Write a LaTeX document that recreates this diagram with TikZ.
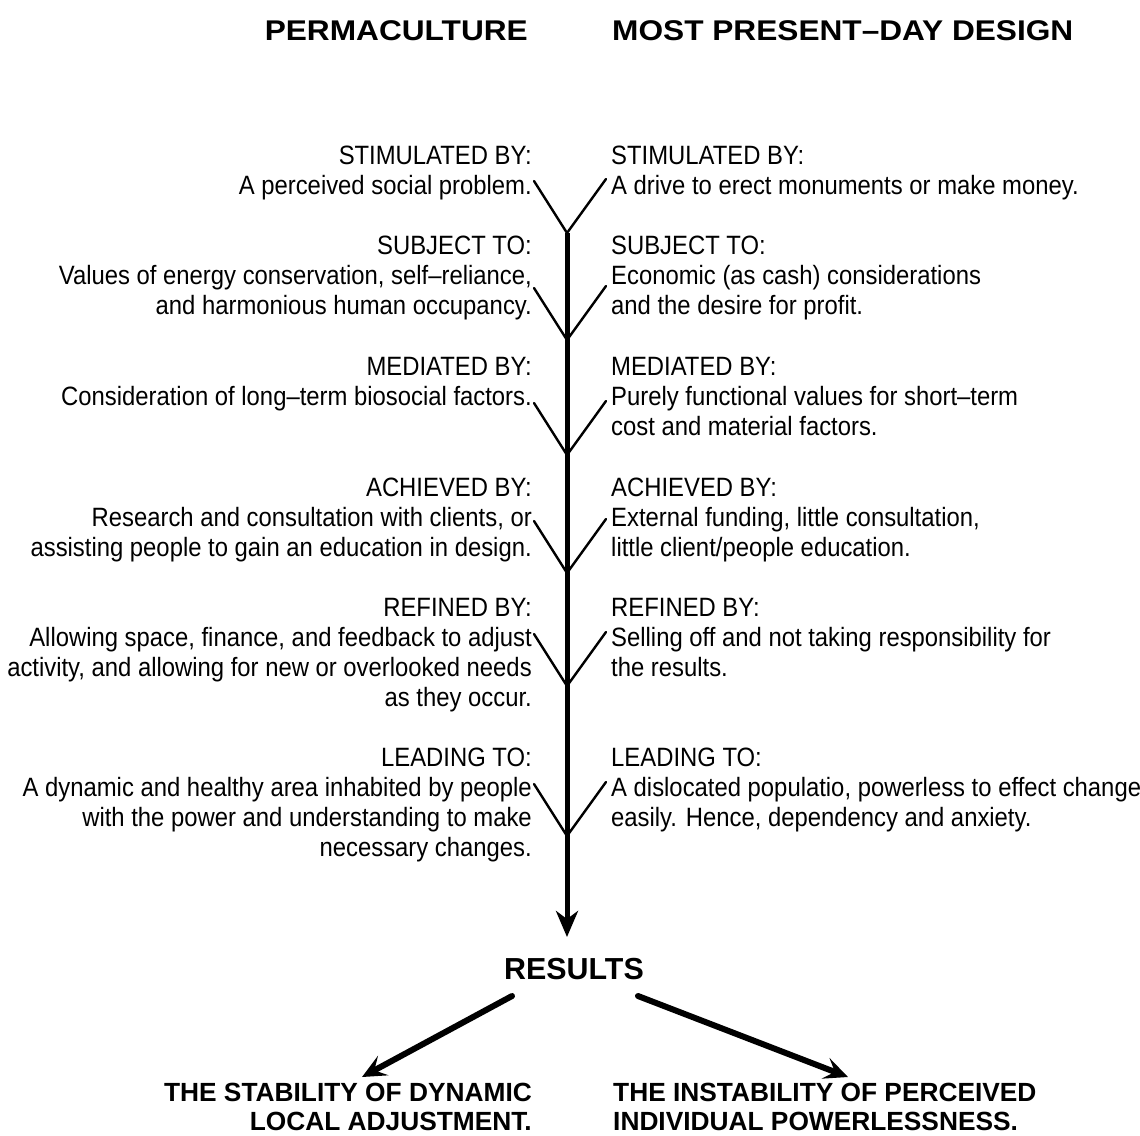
\documentclass[tikz,border=0pt]{standalone}
\usepackage{fontspec}
\setmainfont{Liberation Sans}[FakeStretch=0.9]
\newfontfamily\hfont{Liberation Sans}[FakeStretch=1.11]
\newfontfamily\bfont{Liberation Sans}
\usetikzlibrary{arrows.meta}
\begin{document}
\begin{tikzpicture}[x=1pt,y=-1pt,
  lbl/.style={inner sep=0pt,font=\fontsize{26.5}{30}\selectfont},
  lblL/.style={lbl,align=right,anchor=base east},
  lblR/.style={lbl,align=left,anchor=base west},
  head/.style={inner sep=0pt,font=\hfont\bfseries\fontsize{28.5}{34}\selectfont},
  reshead/.style={inner sep=0pt,font=\bfont\bfseries\fontsize{30.4}{36}\selectfont},
  res/.style={inner sep=0pt,font=\bfont\bfseries\fontsize{26.3}{29}\selectfont},
  arm/.style={line width=2.4pt,line cap=round},
  stem/.style={line width=5pt},
  bigarrow/.style={line width=6pt,-{Stealth[length=24pt,width=22pt,inset=10pt]}}]
\useasboundingbox[fill=white] (0,0) rectangle (1140,1135);

% headers
\node[head,anchor=base east] (hl) at (528,40) {PERMACULTURE};
\node[head,anchor=base west] (hr) at (612,40) {MOST PRESENT–DAY DESIGN};

% left column (anchored at baseline of last line)
\node[lblL] (l1) at (532,194) {STIMULATED BY:\\A perceived social problem.};
\node[lblL] (l2) at (532,314) {SUBJECT TO:\\Values of energy conservation, self–reliance,\\and harmonious human occupancy.};
\node[lblL] (l3) at (532,405) {MEDIATED BY:\\Consideration of long–term biosocial factors.};
\node[lblL] (l4) at (532,556) {ACHIEVED BY:\\Research and consultation with clients, or\\assisting people to gain an education in design.};
\node[lblL] (l5) at (532,706) {REFINED BY:\\Allowing space, finance, and feedback to adjust\\activity, and allowing for new or overlooked needs\\as they occur.};
\node[lblL] (l6) at (532,856) {LEADING TO:\\A dynamic and healthy area inhabited by people\\with the power and understanding to make\\necessary changes.};

% right column
\node[lblR] (r1) at (611,194) {STIMULATED BY:\\A drive to erect monuments or make money.};
\node[lblR] (r2) at (611,314) {SUBJECT TO:\\Economic (as cash) considerations\\and the desire for profit.};
\node[lblR] (r3) at (611,435) {MEDIATED BY:\\Purely functional values for short–term\\cost and material factors.};
\node[lblR] (r4) at (611,556) {ACHIEVED BY:\\External funding, little consultation,\\little client/people education.};
\node[lblR] (r5) at (611,676) {REFINED BY:\\Selling off and not taking responsibility for\\the results.};
\node[lblR] (r6) at (611,826) {LEADING TO:\\A dislocated populatio, powerless to effect change\\easily. Hence, dependency and anxiety.};

% junctions and arm ends
\foreach \i/\y in {1/233,2/340,3/455,4/573,5/686,6/836}{
  \coordinate (j\i) at (567,\y);
  \coordinate (a\i) at (534,\y-52);
  \coordinate (b\i) at (606,\y-54);
}
\coordinate (tip) at (567,937);

\draw[stem,-{Stealth[length=26pt,width=22pt,inset=8pt]}] (j1) -- (tip);
\foreach \i in {1,...,6}{
  \draw[arm] (a\i) -- (j\i) -- (b\i);
}

% results
\node[reshead,anchor=base] (res) at (574,979) {RESULTS};
\coordinate (sL) at (512,996);
\coordinate (eL) at (362,1077);
\coordinate (sR) at (638,996);
\coordinate (eR) at (848,1077);
\draw[bigarrow,line cap=round] (sL) -- (eL);
\draw[bigarrow,line cap=round] (sR) -- (eR);

\node[res,align=right,anchor=base east] (outL) at (532,1130) {THE STABILITY OF DYNAMIC\\LOCAL ADJUSTMENT.};
\node[res,align=left,anchor=base west] (outR) at (613,1130) {THE INSTABILITY OF PERCEIVED\\INDIVIDUAL POWERLESSNESS.};
\end{tikzpicture}
\end{document}
